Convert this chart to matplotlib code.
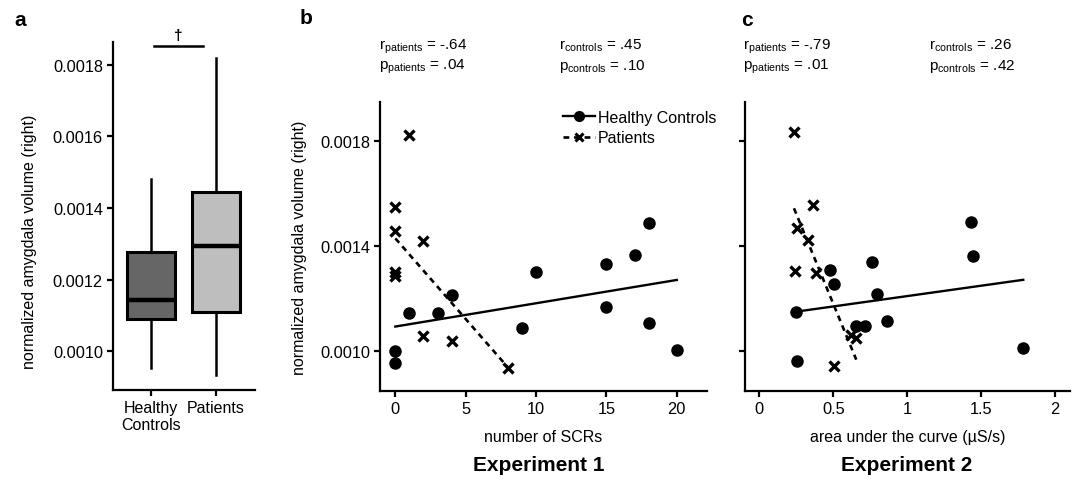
import numpy as np
import matplotlib
matplotlib.use('Agg')
import matplotlib.pyplot as plt
from matplotlib.lines import Line2D

plt.rcParams['font.family'] = ['Liberation Sans', 'DejaVu Sans']
plt.rcParams['font.size'] = 11.5
plt.rcParams['xtick.labelsize'] = 11.8
plt.rcParams['ytick.labelsize'] = 11.8
plt.rcParams['mathtext.default'] = 'regular'
plt.rcParams['axes.linewidth'] = 1.6
for a in ('xtick', 'ytick'):
    plt.rcParams[a + '.major.width'] = 1.6
    plt.rcParams[a + '.major.size'] = 4
    plt.rcParams[a + '.major.pad'] = 3

## panel a: box summaries
groups = ['Healthy\nControls', 'Patients']
box_whislo = [0.000954, 0.000933]
box_q1 = [0.001089, 0.001110]
box_med = [0.001143, 0.001294]
box_q3 = [0.001278, 0.001445]
box_whishi = [0.001480, 0.001818]
box_colors = ['#666666', '#bebebe']

## panel b: experiment 1, number of SCRs
scr_hc = [0, 0, 1, 3, 4, 9, 10, 15, 15, 17, 18, 18, 20]
vol_b_hc = [0.001003, 0.000956, 0.001146, 0.001146, 0.001214, 0.001089, 0.001303,
            0.001332, 0.001170, 0.001365, 0.001486, 0.001108, 0.001005]
scr_pt = [1, 0, 0, 0, 0, 2, 2, 4, 8]
vol_b_pt = [0.001821, 0.001547, 0.001457, 0.001300, 0.001285, 0.001418, 0.001057,
            0.001041, 0.000937]
fit_b_hc = (0.001094, 8.85e-6)     # intercept, slope
fit_b_pt = (0.001429, -6.125e-5)

## panel c: experiment 2, area under the curve
auc_hc = [0.248, 0.257, 0.480, 0.502, 0.764, 0.795, 0.655, 0.716, 0.863, 1.428, 1.444, 1.784]
vol_c_hc = [0.001151, 0.000962, 0.001309, 0.001256, 0.001338, 0.001219, 0.001095,
            0.001095, 0.001115, 0.001491, 0.001361, 0.001011]
auc_pt = [0.234, 0.360, 0.252, 0.331, 0.239, 0.383, 0.619, 0.655, 0.507]
vol_c_pt = [0.001832, 0.001557, 0.001467, 0.001424, 0.001305, 0.001297, 0.001063,
            0.001051, 0.000946]
fit_c_hc = (0.001131, 7.88e-5)
fit_c_pt = (0.001863, -0.001366)

stats_b = [('patients', '-.64', '.04'), ('controls', '.45', '.10')]
stats_c = [('patients', '-.79', '.01'), ('controls', '.26', '.42')]

W, H = 1078, 485
fig = plt.figure(figsize=(W / 100, H / 100), dpi=100)

def px_axes(x0, y0, x1, y1):
    return fig.add_axes([x0 / W, 1 - y1 / H, (x1 - x0) / W, (y1 - y0) / H])

def style(ax):
    for s in ('top', 'right'):
        ax.spines[s].set_visible(False)

# ---- a
axa = px_axes(112.7, 43.3, 255, 391)
stats = [dict(whislo=box_whislo[i], q1=box_q1[i], med=box_med[i], q3=box_q3[i],
              whishi=box_whishi[i], label=groups[i]) for i in range(2)]
bp = axa.bxp(stats, positions=[1, 2], widths=0.75, showfliers=False, showcaps=False,
             patch_artist=True,
             boxprops=dict(linewidth=2.2, edgecolor='black'),
             medianprops=dict(linewidth=3.2, color='black'),
             whiskerprops=dict(linewidth=1.8, color='black'))
for patch, col in zip(bp['boxes'], box_colors):
    patch.set_facecolor(col)
axa.set_xlim(0.41, 2.6)
axa.set_ylim(0.000892, 0.001862)
axa.set_yticks([0.0010, 0.0012, 0.0014, 0.0016, 0.0018])
axa.set_yticklabels(['0.0010', '0.0012', '0.0014', '0.0016', '0.0018'])
axa.tick_params(axis='x', labelsize=11.5)
axa.set_ylabel('normalized amygdala volume (right)')
axa.yaxis.set_label_coords(-0.534, 0.43)
axa.plot([1.05, 1.8], [0.001853, 0.001853], color='black', lw=1.8, clip_on=False)
axa.text(1.42, 0.001862, '\u2020', ha='center', va='bottom', fontsize=11,
         fontweight='bold', clip_on=False)
style(axa)

def scatter_panel(ax, xh, yh, fh, xp, yp, fp):
    ax.plot(xh, yh, 'o', color='black', ms=8, ls='none')
    ax.plot(xp, yp, 'x', color='black', ms=7, mew=2.4, ls='none')
    xr = np.array([min(xh), max(xh)])
    ax.plot(xr, fh[0] + fh[1] * xr, color='black', lw=1.7)
    xr = np.array([min(xp), max(xp)])
    ax.plot(xr, fp[0] + fp[1] * xr, color='black', lw=1.9, ls=(0, (2.2, 1.8)))
    ax.set_ylim(0.000848, 0.001946)
    ax.set_yticks([0.0010, 0.0014, 0.0018])
    style(ax)

# ---- b
axb = px_axes(380, 103.3, 706.7, 392.3)
scatter_panel(axb, scr_hc, vol_b_hc, fit_b_hc, scr_pt, vol_b_pt, fit_b_pt)
axb.set_xlim(-1.09, 22.13)
axb.set_xticks([0, 5, 10, 15, 20])
axb.set_yticklabels(['0.0010', '0.0014', '0.0018'])
axb.set_xlabel('number of SCRs', labelpad=9)
axb.set_ylabel('normalized amygdala volume (right)')
axb.yaxis.set_label_coords(-0.224, 0.5)
handles = [Line2D([], [], color='black', lw=1.7, marker='o', ms=7),
           Line2D([], [], color='black', lw=1.9, ls=(0, (2.2, 1.8)), marker='x', ms=6, mew=2.2)]
axb.legend(handles, ['Healthy Controls', 'Patients'], loc='upper left',
           bbox_to_anchor=(0.559, 0.975), frameon=False, borderpad=0, borderaxespad=0,
           handlelength=2.0, handletextpad=0.2, labelspacing=0.35, fontsize=11.5)

# ---- c
axc = px_axes(745, 103.3, 1070, 392.3)
scatter_panel(axc, auc_hc, vol_c_hc, fit_c_hc, auc_pt, vol_c_pt, fit_c_pt)
axc.set_xlim(-0.097, 2.1)
axc.set_xticks([0, 0.5, 1, 1.5, 2])
axc.set_xticklabels(['0', '0.5', '1', '1.5', '2'])
axc.set_yticklabels([])
axc.set_xlabel('area under the curve (\u00b5S/s)', labelpad=9)

# stats text
def stat_text(x, grp, r, p):
    fig.text(x / W, 1 - 50 / H, r'r$_{%s}$ = %s' % (grp, r), fontsize=11, va='baseline')
    fig.text(x / W, 1 - 70 / H, r'p$_{%s}$ = %s' % (grp, p), fontsize=11, va='baseline')

for x, s in zip([379.3, 559.3], stats_b):
    stat_text(x, *s)
for x, s in zip([742.7, 929.3], stats_c):
    stat_text(x, *s)

# panel letters and experiment titles
for x, y, t in [(20, 20, 'a'), (306, 18, 'b'), (747, 20, 'c')]:
    fig.text(x / W, 1 - y / H, t, fontsize=15, fontweight='bold', ha='center', va='center')
fig.text(539 / W, 1 - 466 / H, 'Experiment 1', fontsize=15, fontweight='bold', ha='center', va='center')
fig.text(907 / W, 1 - 466 / H, 'Experiment 2', fontsize=15, fontweight='bold', ha='center', va='center')

plt.savefig('out.png', dpi=100)
plt.close()
